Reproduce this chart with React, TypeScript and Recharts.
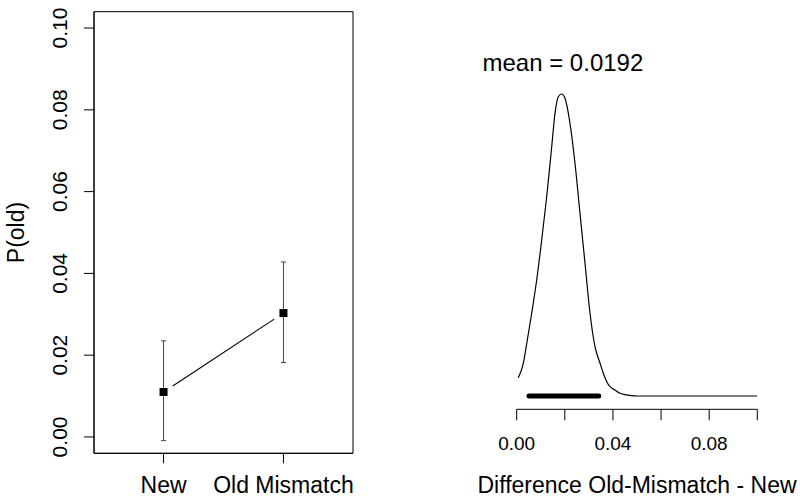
import React from "react";
import {
  ComposedChart,
  Scatter,
  Line,
  XAxis,
  YAxis,
  ErrorBar,
  ReferenceArea,
  ReferenceLine,
} from "recharts";

const FONT = '"Liberation Sans", Arial, Helvetica, sans-serif';

// left panel: P(old) by condition, with interval
const conditions = ["New", "Old Mismatch"];
const pOld = [0.011, 0.0303];
const ciLow = [-0.0009, 0.0182];
const ciHigh = [0.0235, 0.0428];
const pTicks = [0, 0.02, 0.04, 0.06, 0.08, 0.1];
const pDomain = [-0.004, 0.104];
const condDomain = [0.42, 2.58];

// right panel: posterior of Old-Mismatch - New
const diffX = [
  0.00067, 0.00274, 0.00441, 0.00623, 0.00831, 0.01039, 0.01247, 0.01455,
  0.01592, 0.01729, 0.0187, 0.02007, 0.02215, 0.02423, 0.02631, 0.02839,
  0.03047, 0.03254, 0.03462, 0.03599, 0.03741, 0.03878, 0.04086, 0.04294,
  0.0478, 0.05, 0.1,
];
const diffDensity = [
  2.75, 4.92, 8.42, 12.44, 17.44, 23.46, 29.97, 37.49, 42.51, 45.0, 45.41,
  44.77, 41.01, 35.0, 27.47, 19.95, 12.44, 7.41, 4.96, 3.41, 2.15, 1.4, 0.9,
  0.41, 0.05, 0, 0,
];
const diffMean = 0.0192;
const hdi = [0.0051, 0.0341];
const diffTicks = [0, 0.02, 0.04, 0.06, 0.08, 0.1];
const diffLabelled = [0, 0.04, 0.08];

const pointData = conditions.map((c, i) => ({
  x: i + 1,
  y: pOld[i],
  err: [pOld[i] - ciLow[i], ciHigh[i] - pOld[i]],
}));
const densityData = diffX.map((x, i) => ({ x, d: diffDensity[i] }));
const hdiData = hdi.map((x) => ({ x, d: 0 }));

// R type="b": segments stop short of the points
const GappedLine = (props: any) => {
  const pts = props.points || [];
  const gap = 11;
  const segs = [];
  for (let i = 1; i < pts.length; i++) {
    const a = pts[i - 1];
    const b = pts[i];
    const len = Math.hypot(b.x - a.x, b.y - a.y);
    const ux = (b.x - a.x) / len;
    const uy = (b.y - a.y) / len;
    segs.push(
      <line
        key={i}
        x1={a.x + ux * gap}
        y1={a.y + uy * gap}
        x2={b.x - ux * gap}
        y2={b.y - uy * gap}
        stroke="#000"
        strokeWidth={1.1}
      />
    );
  }
  return <g>{segs}</g>;
};

const Square = ({ cx, cy }: any) => (
  <rect x={cx - 4} y={cy - 4} width={8} height={8} fill="#000" />
);

const PTick = ({ x, y, payload }: any) => (
  <text
    x={x - 22}
    y={y}
    transform={`rotate(-90 ${x - 22} ${y})`}
    textAnchor="middle"
    dominantBaseline="central"
    fontSize={21}
    fontFamily={FONT}
    fill="#000"
  >
    {payload.value.toFixed(2)}
  </text>
);

const CondTick = ({ x, y, payload }: any) => (
  <text x={x} y={y + 28} textAnchor="middle" fontSize={23} fontFamily={FONT} fill="#000">
    {conditions[payload.value - 1]}
  </text>
);

const DiffTick = ({ x, y, payload }: any) =>
  diffLabelled.includes(payload.value) ? (
    <text x={x} y={y + 28} textAnchor="middle" fontSize={19} fontFamily={FONT} fill="#000">
      {payload.value.toFixed(2)}
    </text>
  ) : (
    <g />
  );

export default function App() {
  return (
    <div
      style={{
        position: "absolute",
        left: 0,
        top: 0,
        width: 800,
        height: 500,
        background: "#fff",
        fontFamily: FONT,
      }}
    >
      <div style={{ position: "absolute", left: 0, top: 0 }}>
        <ComposedChart
          width={400}
          height={500}
          data={pointData}
          margin={{ top: 11.7, right: 47, bottom: 0, left: 0 }}
        >
          <XAxis
            dataKey="x"
            type="number"
            domain={condDomain}
            ticks={[1, 2]}
            interval={0}
            height={46.7}
            tickSize={10}
            tick={<CondTick />}
            stroke="#000"
            allowDataOverflow
          />
          <YAxis
            dataKey="y"
            type="number"
            domain={pDomain}
            ticks={pTicks}
            interval={0}
            width={94}
            tickSize={10}
            tick={<PTick />}
            stroke="#000"
            allowDataOverflow
            label={(p: any) => {
              const vb = p.viewBox;
              const cy = vb.y + vb.height / 2;
              return (
                <text
                  x={24}
                  y={cy}
                  transform={`rotate(-90 24 ${cy})`}
                  textAnchor="middle"
                  fontSize={23}
                  fontFamily={FONT}
                  fill="#000"
                >
                  P(old)
                </text>
              );
            }}
          />
          <ReferenceArea
            x1={condDomain[0]}
            x2={condDomain[1]}
            y1={pDomain[0]}
            y2={pDomain[1]}
            fill="none"
            stroke="#000"
            strokeWidth={1}
            ifOverflow="visible"
          />
          <Scatter
            dataKey="y"
            fill="#000"
            shape={<Square />}
            line={GappedLine}
            isAnimationActive={false}
          >
            <ErrorBar dataKey="err" direction="y" width={2.5} stroke="#444" strokeWidth={1} />
          </Scatter>
        </ComposedChart>
      </div>
      <div style={{ position: "absolute", left: 400, top: 0 }}>
        <ComposedChart
          width={400}
          height={500}
          margin={{ top: 10.3, right: 42.7, bottom: 0, left: 116.7 }}
        >
          <XAxis
            dataKey="x"
            type="number"
            domain={[0, 0.1]}
            ticks={diffTicks}
            interval={0}
            height={90.7}
            tickSize={11}
            tick={<DiffTick />}
            stroke="#000"
            allowDataOverflow
            label={(p: any) => {
              const vb = p.viewBox;
              return (
                <text
                  x={vb.x + vb.width / 2}
                  y={vb.y + 84}
                  textAnchor="middle"
                  fontSize={23}
                  fontFamily={FONT}
                  fill="#000"
                >
                  Difference Old-Mismatch - New
                </text>
              );
            }}
          />
          <YAxis type="number" domain={[-2, 58]} hide allowDataOverflow />
          <ReferenceLine
            x={diffMean}
            stroke="none"
            label={(p: any) => {
              const vb = p.viewBox;
              return (
                <text
                  x={vb.x}
                  y={vb.y + 60.4}
                  textAnchor="middle"
                  fontSize={24}
                  fontFamily={FONT}
                  fill="#000"
                >
                  mean = 0.0192
                </text>
              );
            }}
          />
          <Line
            data={densityData}
            dataKey="d"
            type="monotone"
            stroke="#000"
            strokeWidth={1.2}
            dot={false}
            activeDot={false}
            isAnimationActive={false}
          />
          <Line
            data={hdiData}
            dataKey="d"
            type="linear"
            stroke="#000"
            strokeWidth={5}
            strokeLinecap="round"
            dot={false}
            activeDot={false}
            isAnimationActive={false}
          />
        </ComposedChart>
      </div>
    </div>
  );
}
